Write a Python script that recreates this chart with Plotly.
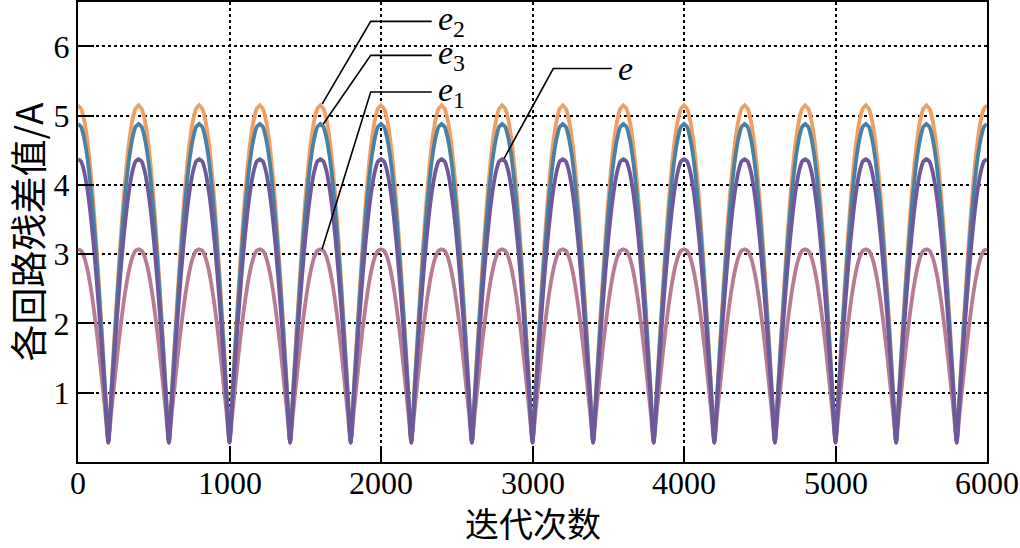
import plotly.graph_objects as go

# ---- data ----
period = 400
n_periods = 15
# half-period samples: offset from a peak (iterations)
half_offsets = [0, 20, 40, 60, 80, 100, 120, 140, 160, 180, 200]
e2_half = [5.15, 5.10, 4.94, 4.67, 4.28, 3.78, 3.18, 2.51, 1.79, 1.04, 0.28]
e3_half = [4.88, 4.84, 4.68, 4.42, 4.05, 3.58, 3.02, 2.39, 1.71, 1.00, 0.28]
e_half = [4.37, 4.34, 4.20, 3.96, 3.63, 3.21, 2.71, 2.15, 1.55, 0.92, 0.28]
e1_half = [3.07, 3.05, 2.96, 2.80, 2.57, 2.28, 1.94, 1.56, 1.14, 0.72, 0.28]

x_ticks = [0, 1000, 2000, 3000, 4000, 5000, 6000]
y_ticks = [1, 2, 3, 4, 5, 6]

# leader lines: (curve point, elbow, end) and label
labels = ["<i>e</i><sub>2</sub>", "<i>e</i><sub>3</sub>", "<i>e</i><sub>1</sub>", "<i>e</i>"]
lead_start = [(1612, 5.17), (1619, 4.88), (1611, 3.07), (2812, 4.38)]
lead_elbow = [(1932, 6.36), (1932, 5.87), (1932, 5.34), (3137, 5.68)]
lead_end = [(2335, 6.36), (2335, 5.87), (2335, 5.34), (3523, 5.68)]


def build(half):
    xs, ys = [], []
    for k in range(n_periods):
        base = k * period
        for d, v in zip(half_offsets, half):
            xs.append(base + d); ys.append(v)
        for d, v in zip(half_offsets[::-1][1:], half[::-1][1:]):
            xs.append(base + period - d); ys.append(v)
    return xs, ys


fig = go.Figure()
series = [
    ("e2", e2_half, "#EF9F63"),
    ("e1", e1_half, "#B57C93"),
    ("e3", e3_half, "#4A80A2"),
    ("e", e_half, "#6D589B"),
]
for name, half, col in series:
    xs, ys = build(half)
    fig.add_trace(go.Scatter(x=xs, y=ys, mode="lines", name=name,
                             line=dict(color=col, width=3.8, shape="spline", smoothing=0.5),
                             showlegend=False, hoverinfo="skip"))

for (x0, y0), (x1, y1), (x2, y2), lab in zip(lead_start, lead_elbow, lead_end, labels):
    fig.add_shape(type="path", xref="x", yref="y",
                  path=f"M {x0},{y0} L {x1},{y1} L {x2},{y2}",
                  line=dict(color="black", width=1.6))
    fig.add_annotation(x=x2, y=y2, xref="x", yref="y", text=lab, showarrow=False,
                       xanchor="left", yanchor="middle", xshift=4, yshift=0,
                       font=dict(family="Liberation Serif", size=34, color="black"))

# x tick labels and x title as text placed under the axis
for v in x_ticks:
    fig.add_annotation(x=v, y=-0.046, xref="x", yref="paper", text=str(v),
                       showarrow=False, xanchor="center", yanchor="middle",
                       font=dict(family="Liberation Serif", size=32, color="black"))
fig.add_annotation(x=0.5, y=-0.132, xref="paper", yref="paper", text="迭代次数",
                   showarrow=False, xanchor="center", yanchor="middle",
                   font=dict(family="Noto Sans CJK SC", size=34, color="black"))

fig.update_layout(
    width=1020, height=548,
    margin=dict(l=78, r=33, t=2, b=86),
    plot_bgcolor="white", paper_bgcolor="white",
    font=dict(family="Liberation Serif", size=32, color="black"),
)
fig.update_xaxes(range=[0, 6000], tickvals=x_ticks, showticklabels=False,
                 automargin=False,
                 showline=True, linecolor="black", linewidth=2, mirror=True,
                 ticks="inside", ticklen=16, tickwidth=2, tickcolor="black",
                 showgrid=True, gridcolor="black", gridwidth=1.5, griddash="dot",
                 zeroline=False)
fig.update_yaxes(range=[0, 6.64], tickvals=y_ticks,
                 automargin=False,
                 showline=True, linecolor="black", linewidth=2, mirror=True,
                 ticks="inside", ticklen=16, tickwidth=2, tickcolor="black",
                 showgrid=True, gridcolor="black", gridwidth=1.5, griddash="dot",
                 zeroline=False,
                 tickfont=dict(family="Liberation Serif", size=32, color="black"),
                 title=dict(text="各回路残差值/A", standoff=6,
                            font=dict(family="Noto Sans CJK SC", size=37, color="black")))

fig.write_html("out.html", config={"displayModeBar": False},
               post_script="document.body.style.margin='0px';")
